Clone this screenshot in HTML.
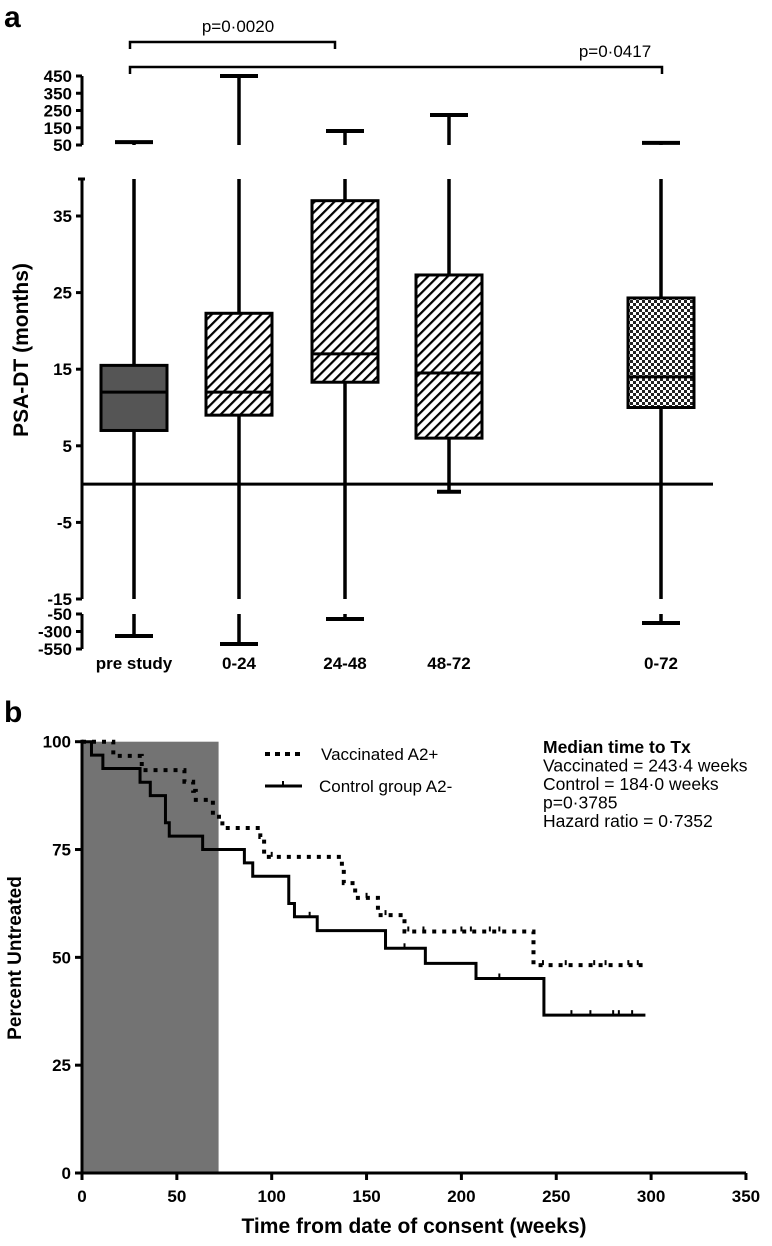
<!DOCTYPE html>
<html><head><meta charset="utf-8"><style>
body{margin:0;background:#fff;width:772px;height:1246px;overflow:hidden}
svg{display:block;font-family:"Liberation Sans",Arial,sans-serif}
</style></head><body>
<svg id="s" width="772" height="1246" viewBox="0 0 772 1246" xmlns="http://www.w3.org/2000/svg">
<defs>
<pattern id="hatch" patternUnits="userSpaceOnUse" width="7" height="7" patternTransform="rotate(45)">
<rect width="7" height="7" fill="#fff"/><rect x="0" y="0" width="2.2" height="7" fill="#000"/></pattern>
<pattern id="check" patternUnits="userSpaceOnUse" width="6" height="6">
<rect width="6" height="6" fill="#fff"/><rect width="3" height="3" fill="#222"/><rect x="3" y="3" width="3" height="3" fill="#222"/></pattern>
</defs>
<text x="4" y="27" font-size="30" font-weight="bold">a</text>
<text x="4" y="722" font-size="30" font-weight="bold">b</text>
<g id="ga"></g>
<g id="gb"></g>
</svg>
<script>
// ---- Panel a data ----
const groups = ["pre study","0-24","24-48","48-72","0-72"];
const groupX = [134,239,345,449,661];
const q1 = [7,9,13.3,6,10];
const medians = [12,12,17,14.5,14];
const q3 = [15.5,22.3,37,27.3,24.3];
const whiskerHi = [67,450,131,224,62];
const whiskerLo = [-364,-479,-121,-1,-179];
const fills = ["#555","url(#hatch)","url(#hatch)","url(#hatch)","url(#check)"];
const yMainTicks = [35,25,15,5,-5,-15];
const yUpTicks = [450,350,250,150,50];
const yLoTicks = [-50,-300,-550];

// ---- Panel b data ----
const xTicksB = [0,50,100,150,200,250,300,350];
const yTicksB = [0,25,50,75,100];
const ctrlWeeks = [0,5,11,30.6,36,44,46,63.6,85.6,90,109,112,124,160,181,207.7,243.5,297];
const ctrlPct =   [100,96.9,93.8,90.6,87.5,81.2,78.1,75,71.9,68.8,62.5,59.4,56.2,52.1,48.6,45.1,36.6,36.6];
const vaccWeeks = [0,16.5,31.5,54,58.6,60,69,74,94,96,137,138,144,156,170,238,297];
const vaccPct =   [100,96.7,93.4,90.7,88.6,86.5,82.6,80,77.9,73.3,70.7,67.2,63.8,59.8,56,48.2,48.2];
const ctrlCensorW = [44,109,120,170,220,258,268,280,283,290];
const vaccCensorW = [100,150,160,172,180,200,205,215,220,243,255,270,276,288,293];

const NS="http://www.w3.org/2000/svg";
function mk(parent,tag,attrs){const e=document.createElementNS(NS,tag);for(const k in attrs)e.setAttribute(k,attrs[k]);parent.appendChild(e);return e;}
const ga=document.getElementById('ga'), gb=document.getElementById('gb');

const yMain=v=>216+(35-v)*7.66;
const yUp=v=>145-(v-50)*0.1725;
const yLo=v=>614+(-50-v)*0.07;
const AX=82;
let e;
e=mk(ga,'line',{x1:AX,y1:yUp(450),x2:AX,y2:yUp(50),stroke:'#000','stroke-width':3});


e=mk(ga,'line',{x1:AX,y1:179,x2:AX,y2:yMain(-15),stroke:'#000','stroke-width':3});


e=mk(ga,'line',{x1:AX,y1:yLo(-50),x2:AX,y2:yLo(-550),stroke:'#000','stroke-width':3});


mk(ga,'line',{x1:AX-4,y1:179,x2:AX+3,y2:179,stroke:'#000','stroke-width':3});
function tickA(y,label){
 mk(ga,'line',{x1:AX-6,y1:y,x2:AX,y2:y,stroke:'#000','stroke-width':3});
 e=mk(ga,'text',{x:AX-10,y:y+6,'text-anchor':'end','font-size':17,'font-weight':'bold'});
 e.textContent=label;
 
 
}
yUpTicks.forEach(v=>tickA(yUp(v),v));
yMainTicks.forEach(v=>tickA(yMain(v),v));
yLoTicks.forEach(v=>tickA(yLo(v),v));
e=mk(ga,'line',{x1:AX,y1:yMain(0),x2:713,y2:yMain(0),stroke:'#000','stroke-width':3});


e=mk(ga,'text',{x:0,y:0,transform:'translate(28,350) rotate(-90)','text-anchor':'middle','font-size':21,'font-weight':'bold'});
e.textContent='PSA-DT (months)';



const hw=33;
groups.forEach((g,i)=>{
 const cx=groupX[i];
 const G=mk(ga,'g',{});
 
 
 const hi=whiskerHi[i], lo=whiskerLo[i];
 if(hi>40){
  mk(G,'line',{x1:cx,y1:yMain(q3[i]),x2:cx,y2:179,stroke:'#000','stroke-width':3.5});
  mk(G,'line',{x1:cx,y1:yUp(50),x2:cx,y2:yUp(hi),stroke:'#000','stroke-width':3.5});
  mk(G,'line',{x1:cx-19,y1:yUp(hi),x2:cx+19,y2:yUp(hi),stroke:'#000','stroke-width':4});
 } else {
  mk(G,'line',{x1:cx,y1:yMain(q3[i]),x2:cx,y2:yMain(hi),stroke:'#000','stroke-width':3.5});
  mk(G,'line',{x1:cx-19,y1:yMain(hi),x2:cx+19,y2:yMain(hi),stroke:'#000','stroke-width':4});
 }
 if(lo<-15){
  mk(G,'line',{x1:cx,y1:yMain(q1[i]),x2:cx,y2:yMain(-15),stroke:'#000','stroke-width':3.5});
  mk(G,'line',{x1:cx,y1:yLo(-50),x2:cx,y2:yLo(lo),stroke:'#000','stroke-width':3.5});
  mk(G,'line',{x1:cx-19,y1:yLo(lo),x2:cx+19,y2:yLo(lo),stroke:'#000','stroke-width':4});
 } else {
  mk(G,'line',{x1:cx,y1:yMain(q1[i]),x2:cx,y2:yMain(lo),stroke:'#000','stroke-width':3.5});
  mk(G,'line',{x1:cx-12,y1:yMain(lo),x2:cx+12,y2:yMain(lo),stroke:'#000','stroke-width':4});
 }
 mk(G,'rect',{x:cx-hw,y:yMain(q3[i]),width:2*hw,height:yMain(q1[i])-yMain(q3[i]),fill:fills[i],stroke:'#000','stroke-width':3});
 mk(G,'line',{x1:cx-hw,y1:yMain(medians[i]),x2:cx+hw,y2:yMain(medians[i]),stroke:'#000','stroke-width':3});
 const t=mk(ga,'text',{x:cx,y:669,'text-anchor':'middle','font-size':17,'font-weight':'bold'});
 t.textContent=g;
 
 
});
function bracket(x1,x2,y,label,lx){
 mk(ga,'path',{d:`M${x1} ${y+7} V${y} H${x2} V${y+7}`,fill:'none',stroke:'#000','stroke-width':2.5});
 const t=mk(ga,'text',{x:lx,y:y-10,'text-anchor':'middle','font-size':17});
 t.textContent=label;
 
 
}
bracket(130,335,42,'p=0·0020',238);
bracket(130,662,67,'p=0·0417',615);

// ---- Panel b ----
const X0=82, wk=1.897, Y0=1173, pc=4.313;
const xb=v=>X0+v*wk, yb=v=>Y0-v*pc;
e=mk(gb,'rect',{x:xb(0),y:yb(100),width:xb(72)-xb(0),height:yb(0)-yb(100),fill:'#737373'});


mk(gb,'line',{x1:X0,y1:yb(100)-2,x2:X0,y2:Y0,stroke:'#000','stroke-width':3});
mk(gb,'line',{x1:X0,y1:Y0,x2:xb(350),y2:Y0,stroke:'#000','stroke-width':3});
xTicksB.forEach(v=>{
 mk(gb,'line',{x1:xb(v),y1:Y0,x2:xb(v),y2:Y0+7,stroke:'#000','stroke-width':3});
 const t=mk(gb,'text',{x:xb(v),y:Y0+29,'text-anchor':'middle','font-size':17,'font-weight':'bold'});
 t.textContent=v;
 
 
});
yTicksB.forEach(v=>{
 mk(gb,'line',{x1:X0-7,y1:yb(v),x2:X0,y2:yb(v),stroke:'#000','stroke-width':3});
 const t=mk(gb,'text',{x:X0-11,y:yb(v)+6,'text-anchor':'end','font-size':17,'font-weight':'bold'});
 t.textContent=v;
 
 
});
e=mk(gb,'text',{x:414,y:1233,'text-anchor':'middle','font-size':21,'font-weight':'bold'});
e.textContent='Time from date of consent (weeks)';


e=mk(gb,'text',{x:0,y:0,transform:'translate(21,958) rotate(-90)','text-anchor':'middle','font-size':19,'font-weight':'bold'});
e.textContent='Percent Untreated';



function stepPath(W,P){let d=`M${xb(W[0])} ${yb(P[0])}`;for(let i=1;i<W.length;i++){d+=` H${xb(W[i])} V${yb(P[i])}`;}return d;}
function pctAt(W,P,w){let p=P[0];for(let i=0;i<W.length;i++){if(W[i]<=w)p=P[i];}return p;}
e=mk(gb,'path',{d:stepPath(ctrlWeeks,ctrlPct),fill:'none',stroke:'#000','stroke-width':3});


e=mk(gb,'path',{d:stepPath(vaccWeeks,vaccPct),fill:'none',stroke:'#000','stroke-width':4,'stroke-dasharray':'4 6'});


ctrlCensorW.forEach(w=>{const y=yb(pctAt(ctrlWeeks,ctrlPct,w));
 e=mk(gb,'line',{x1:xb(w),y1:y-5,x2:xb(w),y2:y,stroke:'#000','stroke-width':2});
 
 });
vaccCensorW.forEach(w=>{const y=yb(pctAt(vaccWeeks,vaccPct,w));
 e=mk(gb,'line',{x1:xb(w),y1:y-5,x2:xb(w),y2:y,stroke:'#000','stroke-width':2});
 
 });
e=mk(gb,'line',{x1:265,y1:754,x2:302,y2:754,stroke:'#000','stroke-width':4,'stroke-dasharray':'5 5'});


e=mk(gb,'text',{x:321,y:760,'font-size':17});
e.textContent='Vaccinated A2+';


e=mk(gb,'line',{x1:265,y1:786,x2:302,y2:786,stroke:'#000','stroke-width':3});
mk(gb,'line',{x1:283,y1:781,x2:283,y2:786,stroke:'#000','stroke-width':2});


e=mk(gb,'text',{x:319,y:792,'font-size':17});
e.textContent='Control group A2-';


const stats=['Median time to Tx','Vaccinated = 243·4 weeks','Control = 184·0 weeks','p=0·3785','Hazard ratio = 0·7352'];
stats.forEach((s,i)=>{const t=mk(gb,'text',{x:543,y:753+i*18.5,'font-size':17.5,'font-weight':i===0?'bold':'normal'});
 t.textContent=s;
 
 });
</script>
</body></html>
